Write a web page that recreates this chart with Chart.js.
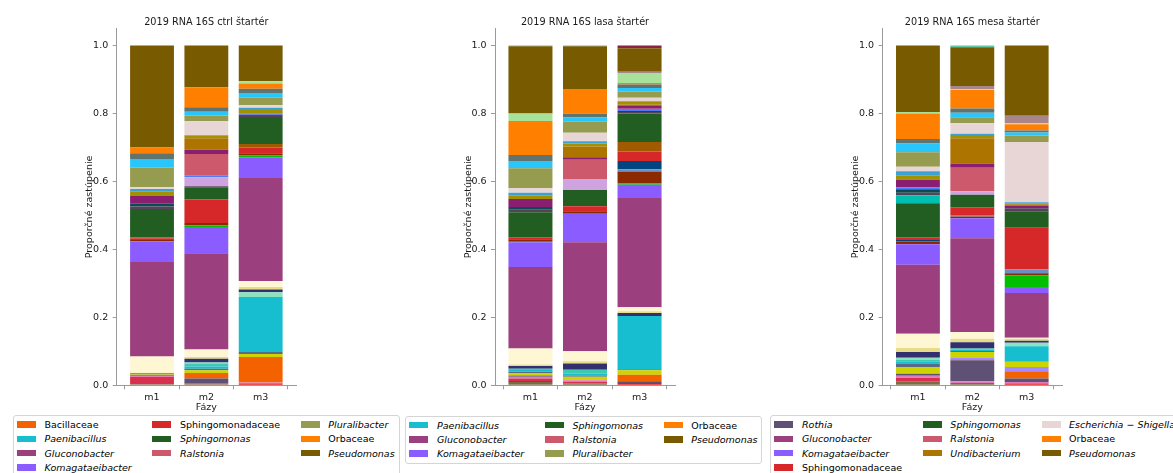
<!DOCTYPE html>
<html>
<head>
<meta charset="utf-8">
<script src="https://cdn.jsdelivr.net/npm/chart.js@4.4.1/dist/chart.umd.min.js"></script>
<style>
  html, body { margin: 0; padding: 0; background: #fff; }
  body { width: 1173px; height: 473px; overflow: hidden; position: relative; font-family: "DejaVu Sans", sans-serif; }
  canvas { position: absolute; top: 0; }
  .legend { position: absolute; box-sizing: border-box; background: #fff; border: 1px solid #d5d5d5; border-radius: 3px;
            display: flex; flex-direction: row; gap: 20.7px; padding: 1.6px 4px 2.4px 3.4px;
            font: 9.5px "DejaVu Sans", sans-serif; color: #000; }
  .col { display: flex; flex-direction: column; }
  .item { height: 14.2px; display: flex; align-items: center; white-space: nowrap; }
  .sw { width: 19px; height: 6.6px; margin-right: 8.6px; flex: none; }
  .it { font-style: italic; }
</style>
</head>
<body>
<canvas id="c1" width="230" height="415"></canvas>
<canvas id="c2" width="230" height="415"></canvas>
<canvas id="c3" width="230" height="415"></canvas>
<div id="lg1" class="legend"></div>
<div id="lg2" class="legend"></div>
<div id="lg3" class="legend"></div>
<script>
// Phases on the x axis and y tick values
const phases = ['m1', 'm2', 'm3'];
const yTickValues = [0, 0.2, 0.4, 0.6, 0.8, 1.0];

// Taxa in stacking order (bottom to top); minor taxa keep short ids
const taxa = [
  'minor01', 'minor02', 'minor03', 'minor04', 'Rothia', 'Bacillaceae', 'minor07', 'minor08', 'minor09',
  'Paenibacillus', 'minor11', 'minor12', 'minor13', 'minor14', 'minor15',
  'Gluconobacter', 'Komagataeibacter', 'minor18', 'minor19', 'minor20', 'minor21',
  'Sphingomonadaceae', 'minor23', 'Sphingomonas', 'minor25',
  'minor26', 'minor27', 'minor28', 'minor29', 'Ralstonia', 'minor31', 'Undibacterium', 'minor33', 'minor34',
  'Escherichia–Shigella', 'Pluralibacter', 'minor37', 'minor38', 'Orbaceae', 'minor40', 'minor41',
  'Pseudomonas', 'minor43', 'minor44'
];
const taxaColors = [
  '#7d6b45', '#e8141c', '#d9304f', '#e07ab8', '#5f5075', '#f46200', '#a58bff', '#cdd400', '#5b6a86',
  '#17becf', '#3fc9b2', '#8ee2c0', '#33306d', '#e6dc8a', '#fff7d4',
  '#9c3f7e', '#8b5cff', '#00bf00', '#8b2a00', '#6a8fc3', '#004580',
  '#d62828', '#a05a00', '#225e22', '#00bfb0',
  '#54435a', '#0b4b52', '#cfa3df', '#4f7bff', '#cd5a6c', '#8a1f72', '#ae7400', '#a29100', '#3aa3d4',
  '#e8d6d6', '#959c50', '#29c6fb', '#5f736f', '#ff8000', '#a8e29a', '#a9868a',
  '#785a00', '#5cc8a8', '#8c2346'
];

// Relative abundances, one array per phase, aligned with taxa
const ctrlM1 = [
  0.003, 0, 0.022, 0.003, 0.002, 0, 0, 0.002, 0.002, 0, 0, 0.001, 0.001, 0.001, 0.048,
  0.278, 0.061, 0, 0.004, 0, 0, 0.005, 0.003, 0.083, 0,
  0.007, 0.008, 0, 0, 0, 0.023, 0, 0.013, 0.008, 0.005,
  0.058, 0.025, 0.017, 0.017, 0, 0, 0.300, 0, 0
];
const ctrlM2 = [
  0.003, 0.002, 0.002, 0, 0.013, 0.016, 0, 0.008, 0.005, 0.006, 0.009, 0.003, 0.011, 0.005, 0.022,
  0.284, 0.077, 0.005, 0.007, 0, 0, 0.069, 0, 0.036, 0,
  0.003, 0, 0.026, 0.006, 0.063, 0.012, 0.034, 0.008, 0.002, 0.040,
  0.017, 0.011, 0.013, 0.059, 0, 0, 0.123, 0, 0
];
const ctrlM3 = [
  0, 0.005, 0, 0.003, 0, 0.075, 0, 0.009, 0.006, 0.162, 0, 0.014, 0.008, 0.007, 0.018,
  0.303, 0.061, 0.006, 0.006, 0, 0, 0.017, 0.010, 0.080, 0,
  0.006, 0, 0, 0.005, 0, 0, 0, 0.012, 0.004, 0.007,
  0.022, 0.014, 0.013, 0.015, 0.007, 0, 0.105, 0, 0
];
const lasaM1 = [
  0.010, 0.003, 0.007, 0.005, 0.003, 0, 0.002, 0.006, 0.004, 0.005, 0.004, 0, 0.008, 0.004, 0.047,
  0.240, 0.073, 0.004, 0.005, 0, 0, 0.006, 0, 0.073, 0,
  0.008, 0.008, 0, 0, 0, 0.023, 0, 0.010, 0.009, 0.013,
  0.059, 0.021, 0.018, 0.100, 0.022, 0, 0.198, 0.002, 0
];
const lasaM2 = [
  0.005, 0.002, 0.003, 0.005, 0, 0, 0, 0.010, 0.004, 0.005, 0.012, 0, 0.018, 0.007, 0.029,
  0.321, 0.084, 0, 0.007, 0, 0, 0.015, 0, 0.048, 0,
  0, 0, 0.032, 0, 0.057, 0.007, 0.032, 0.009, 0.006, 0.025,
  0.033, 0.012, 0.011, 0.073, 0, 0, 0.126, 0.002, 0
];
const lasaM3 = [
  0, 0.007, 0, 0, 0.005, 0.019, 0, 0.013, 0.003, 0.157, 0, 0, 0.009, 0.005, 0.012,
  0.321, 0.039, 0.005, 0.034, 0.007, 0.024, 0.028, 0.028, 0.084, 0,
  0.004, 0.003, 0, 0.003, 0.004, 0.008, 0.004, 0.010, 0, 0.010,
  0.019, 0.010, 0.010, 0.005, 0.029, 0.004, 0.069, 0, 0.008
];
const mesaM1 = [
  0.012, 0, 0.010, 0.006, 0.006, 0, 0, 0.020, 0.010, 0.005, 0.006, 0.006, 0.017, 0.012, 0.042,
  0.203, 0.060, 0, 0.008, 0, 0.005, 0.008, 0, 0.100, 0.023,
  0.008, 0.010, 0, 0.006, 0, 0.022, 0, 0.012, 0.013, 0.013,
  0.043, 0.026, 0.013, 0.075, 0.004, 0, 0.196, 0, 0
];
const mesaM2 = [
  0.007, 0, 0, 0.005, 0.062, 0.003, 0.003, 0.018, 0.003, 0.004, 0.003, 0, 0.019, 0.010, 0.020,
  0.276, 0.059, 0, 0.005, 0.004, 0, 0.023, 0, 0.037, 0,
  0, 0, 0.010, 0, 0.069, 0.013, 0.074, 0.010, 0.003, 0.031,
  0.018, 0.013, 0.013, 0.054, 0.002, 0.010, 0.114, 0.005, 0
];
const mesaM3 = [
  0, 0.005, 0, 0.005, 0.010, 0.021, 0.013, 0.015, 0.002, 0.044, 0, 0.010, 0.006, 0.006, 0.003,
  0.132, 0.017, 0.034, 0.007, 0.011, 0, 0.123, 0, 0.048, 0,
  0.009, 0, 0, 0, 0, 0.008, 0.004, 0.003, 0.003, 0.177,
  0.019, 0.009, 0.006, 0.018, 0.003, 0.022, 0.207, 0, 0
];

// Legend entries of each panel (the ten most abundant taxa)
const ctrlLegend = ['Bacillaceae', 'Paenibacillus', 'Gluconobacter', 'Komagataeibacter', 'Sphingomonadaceae',
  'Sphingomonas', 'Ralstonia', 'Pluralibacter', 'Orbaceae', 'Pseudomonas'];
const lasaLegend = ['Paenibacillus', 'Gluconobacter', 'Komagataeibacter', 'Sphingomonas', 'Ralstonia',
  'Pluralibacter', 'Orbaceae', 'Pseudomonas'];
const mesaLegend = ['Rothia', 'Gluconobacter', 'Komagataeibacter', 'Sphingomonadaceae', 'Sphingomonas',
  'Ralstonia', 'Undibacterium', 'Escherichia–Shigella', 'Orbaceae', 'Pseudomonas'];

const panelTitles = ['2019 RNA 16S ctrl štartér', '2019 RNA 16S lasa štartér', '2019 RNA 16S mesa štartér'];

// ---- drawing ----
const FONT = { family: 'DejaVu Sans', size: 9.5, weight: 'normal' };
const TEXT = '#1a1a1a';
const AXIS = '#9a9a9a';
const Y_AXIS_W = 40;

function buildPanel(canvasId, title, phaseSeries, plotLeft) {
  const canvas = document.getElementById(canvasId);
  const canvasLeft = Math.floor(plotLeft - Y_AXIS_W);
  canvas.style.left = canvasLeft + 'px';
  const padLeft = plotLeft - Y_AXIS_W - canvasLeft;

  const datasets = taxa.map((name, i) => ({
    label: name,
    data: phaseSeries.map((series, j) => ({ x: j, y: series[i] })),
    backgroundColor: taxaColors[i],
    borderWidth: 0
  }));

  return new Chart(canvas, {
    type: 'bar',
    data: { datasets },
    options: {
      responsive: false,
      animation: false,
      devicePixelRatio: 1,
      categoryPercentage: 0.807,
      barPercentage: 1,
      layout: { padding: { left: padLeft, right: 10, top: 0, bottom: 0 } },
      plugins: {
        legend: { display: false },
        tooltip: { enabled: false },
        title: {
          display: true, text: title, fullSize: false, color: TEXT,
          font: { family: 'DejaVu Sans', size: 9.7, weight: 'normal' },
          padding: { top: 16.2, bottom: 0.7 }
        }
      },
      scales: {
        x: {
          type: 'linear', stacked: true, min: -0.65, max: 2.65, bounds: 'data', offset: false,
          afterBuildTicks: s => { s.ticks = phases.map((_, i) => ({ value: i })); },
          ticks: { callback: v => phases[v], font: FONT, color: TEXT, padding: 2.5, autoSkip: false, maxRotation: 0 },
          grid: { display: true, drawOnChartArea: false, drawTicks: true, tickLength: 4, color: AXIS, lineWidth: 1 },
          border: { display: true, color: AXIS, width: 1 },
          title: { display: true, text: 'Fázy', font: FONT, color: TEXT, padding: { top: 0, bottom: 2.2 } },
          afterFit: s => { s.height = 29.7; }
        },
        y: {
          stacked: true, min: 0, max: 1.05, bounds: 'data',
          afterBuildTicks: s => { s.ticks = yTickValues.map(v => ({ value: v })); },
          ticks: { callback: v => Number(v).toFixed(1), font: FONT, color: TEXT, padding: 4.5 },
          grid: { display: true, drawOnChartArea: false, drawTicks: true, tickLength: 4, color: AXIS, lineWidth: 1 },
          border: { display: true, color: AXIS, width: 1 },
          title: { display: true, text: 'Proporčné zastúpenie', font: FONT, color: TEXT, padding: { top: 7.5, bottom: 0 } },
          afterFit: s => { s.width = Y_AXIS_W; }
        }
      }
    }
  });
}

function buildLegend(id, names, left, top) {
  const box = document.getElementById(id);
  box.style.left = left + 'px';
  box.style.top = top + 'px';
  const ncol = 3;
  const base = Math.floor(names.length / ncol), extra = names.length % ncol;
  let k = 0;
  for (let c = 0; c < ncol; c++) {
    const n = base + (c < extra ? 1 : 0);
    const col = document.createElement('div');
    col.className = 'col';
    for (let r = 0; r < n; r++, k++) {
      const name = names[k];
      const item = document.createElement('div');
      item.className = 'item';
      const sw = document.createElement('span');
      sw.className = 'sw';
      sw.style.background = taxaColors[taxa.indexOf(name)];
      const tx = document.createElement('span');
      tx.textContent = name.replace('–', ' − ');
      if (!/aceae$/.test(name)) tx.className = 'it';
      item.appendChild(sw);
      item.appendChild(tx);
      col.appendChild(item);
    }
    box.appendChild(col);
  }
}

buildPanel('c1', panelTitles[0], [ctrlM1, ctrlM2, ctrlM3], 116.7);
buildPanel('c2', panelTitles[1], [lasaM1, lasaM2, lasaM3], 495);
buildPanel('c3', panelTitles[2], [mesaM1, mesaM2, mesaM3], 882.6);

buildLegend('lg1', ctrlLegend, 12.5, 415);
buildLegend('lg2', lasaLegend, 405, 415.5);
buildLegend('lg3', mesaLegend, 770, 415);
</script>
</body>
</html>
